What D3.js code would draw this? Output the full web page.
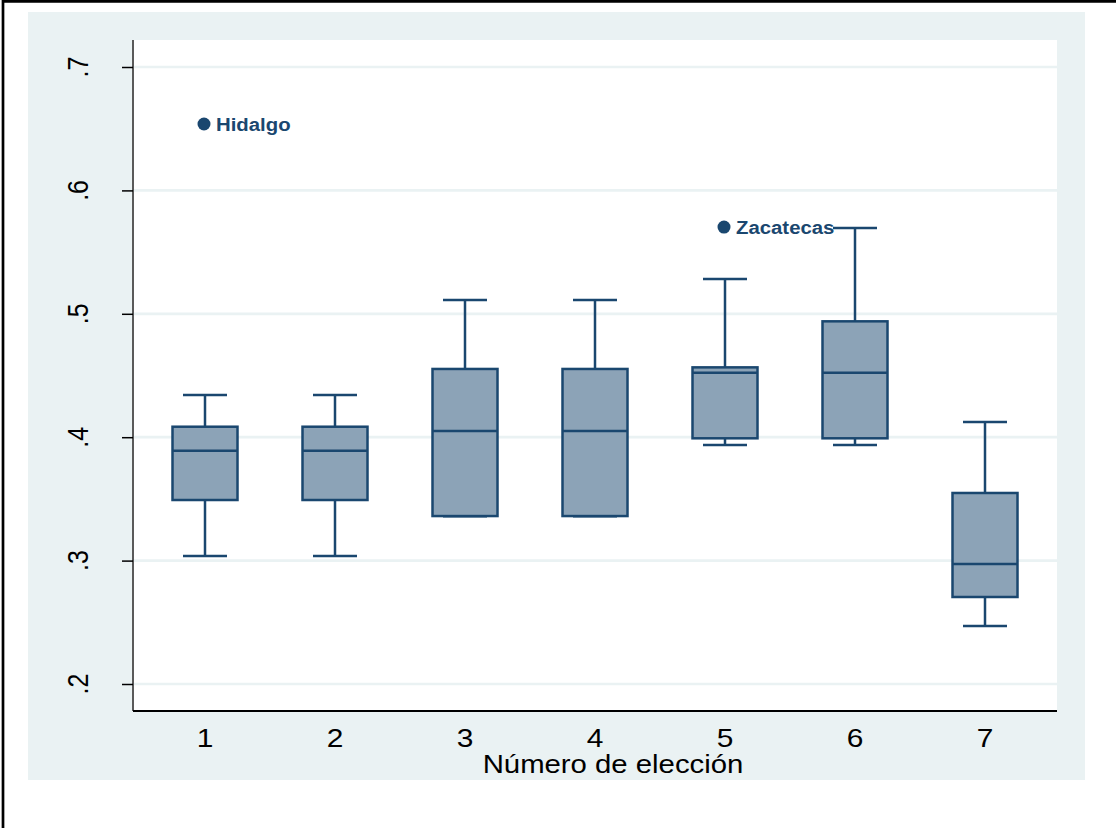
<!DOCTYPE html>
<html>
<head>
<meta charset="utf-8">
<script src="https://cdn.jsdelivr.net/npm/d3@7"></script>
<style>
  body { margin: 0; background: #fff; }
  text { font-family: "Liberation Sans", Arial, sans-serif; }
</style>
</head>
<body>
<div id="chart"></div>
<script>
// box plot data, one entry per election number
const categories = [1, 2, 3, 4, 5, 6, 7];
const whiskerLow = [0.3037, 0.3037, 0.336, 0.336, 0.3937, 0.3937, 0.247];
const q1 = [0.3491, 0.3491, 0.3361, 0.3361, 0.3991, 0.3991, 0.2705];
const median = [0.3891, 0.3891, 0.405, 0.405, 0.4523, 0.4523, 0.2972];
const q3 = [0.4085, 0.4085, 0.4553, 0.4553, 0.4566, 0.4939, 0.3548];
const whiskerHigh = [0.4342, 0.4342, 0.5112, 0.5112, 0.5282, 0.5695, 0.4123];

const outlierCat = [1, 5];
const outlierVal = [0.6538, 0.5703];
const outlierName = ["Hidalgo", "Zacatecas"];

const yTicks = [0.2, 0.3, 0.4, 0.5, 0.6, 0.7];
const yTickLabels = [".2", ".3", ".4", ".5", ".6", ".7"];
const xTitle = "Número de elección";

const width = 1116, height = 828;
const plot = { left: 133, right: 1057, top: 40, bottom: 711 };
const navy = "#1a476f";
const boxFill = "#8ca3b7";
const bluishGray = "#eaf2f3";
const stretch = 1.15; // text in the reference is a bit wider than Arial

const data = categories.map((c, i) => ({
    cat: c, lo: whiskerLow[i], q1: q1[i], med: median[i], q3: q3[i], hi: whiskerHigh[i]
}));

const svg = d3.select("#chart").append("svg")
    .attr("width", width)
    .attr("height", height);

svg.append("rect").attr("width", width).attr("height", height).attr("fill", "#fff");

// graph region and border
svg.append("rect")
    .attr("x", 28).attr("y", 12)
    .attr("width", 1057).attr("height", 768)
    .attr("fill", bluishGray);
svg.append("path")
    .attr("d", `M3,${height} V1.3 H${width}`)
    .attr("fill", "none")
    .attr("stroke", "#000")
    .attr("stroke-width", 2.7);

// plot region
svg.append("rect")
    .attr("x", plot.left).attr("y", plot.top)
    .attr("width", plot.right - plot.left).attr("height", plot.bottom - plot.top)
    .attr("fill", "#fff");

const x = d3.scaleLinear()
    .domain([1 - 72 / 130, 7 + 72 / 130])
    .range([plot.left, plot.right]);
const y = d3.scaleLinear()
    .domain([0.2, 0.7])
    .range([684, 67]);

// gridlines
svg.append("g")
    .selectAll("line")
    .data(yTicks)
    .join("line")
    .attr("x1", plot.left).attr("x2", plot.right)
    .attr("y1", d => y(d)).attr("y2", d => y(d))
    .attr("stroke", bluishGray)
    .attr("stroke-width", 2.7);

// y axis
const yAxis = svg.append("g")
    .attr("transform", `translate(${plot.left},0)`)
    .call(d3.axisLeft(y).tickValues(yTicks).tickSize(11).tickFormat(""));
yAxis.select(".domain").attr("stroke", "#5a5a5a").attr("stroke-width", 2)
    .attr("d", `M0,${plot.top}V${plot.bottom}`);
yAxis.selectAll(".tick line").attr("stroke", "#000").attr("stroke-width", 1.5);

svg.append("g")
    .selectAll("text")
    .data(yTicks)
    .join("text")
    .attr("transform", (d) => `translate(88,${y(d)}) scale(${stretch},1) rotate(-90)`)
    .attr("text-anchor", "middle")
    .attr("font-size", 25)
    .attr("fill", "#000")
    .text((d, i) => yTickLabels[i]);

// x axis
const xAxis = svg.append("g")
    .attr("transform", `translate(0,${plot.bottom})`)
    .call(d3.axisBottom(x).tickValues(categories).tickSize(0).tickFormat(""));
xAxis.select(".domain").attr("stroke", "#000").attr("stroke-width", 2)
    .attr("d", `M${plot.left},0H${plot.right}`);

svg.append("g")
    .selectAll("text")
    .data(categories)
    .join("text")
    .attr("transform", d => `translate(${x(d)},747) scale(${stretch},1)`)
    .attr("text-anchor", "middle")
    .attr("font-size", 26)
    .attr("fill", "#000")
    .text(d => d);

svg.append("text")
    .attr("transform", `translate(613,773) scale(${stretch},1)`)
    .attr("text-anchor", "middle")
    .attr("font-size", 25.5)
    .attr("fill", "#000")
    .text(xTitle);

// boxes
const boxW = 65, capW = 44;
const boxes = svg.append("g")
    .selectAll("g")
    .data(data)
    .join("g")
    .attr("stroke", navy)
    .attr("stroke-width", 2.5);

boxes.append("line")
    .attr("x1", d => x(d.cat)).attr("x2", d => x(d.cat))
    .attr("y1", d => y(d.q3)).attr("y2", d => y(d.hi));
boxes.append("line")
    .attr("x1", d => x(d.cat)).attr("x2", d => x(d.cat))
    .attr("y1", d => y(d.q1)).attr("y2", d => y(d.lo));
boxes.append("line")
    .attr("x1", d => x(d.cat) - capW / 2).attr("x2", d => x(d.cat) + capW / 2)
    .attr("y1", d => y(d.hi)).attr("y2", d => y(d.hi));
boxes.append("line")
    .attr("x1", d => x(d.cat) - capW / 2).attr("x2", d => x(d.cat) + capW / 2)
    .attr("y1", d => y(d.lo)).attr("y2", d => y(d.lo));
boxes.append("rect")
    .attr("x", d => x(d.cat) - boxW / 2)
    .attr("y", d => y(d.q3))
    .attr("width", boxW)
    .attr("height", d => y(d.q1) - y(d.q3))
    .attr("fill", boxFill);
boxes.append("line")
    .attr("x1", d => x(d.cat) - boxW / 2).attr("x2", d => x(d.cat) + boxW / 2)
    .attr("y1", d => y(d.med)).attr("y2", d => y(d.med));

// outliers with labels
const outliers = outlierCat.map((c, i) => ({ cat: c, val: outlierVal[i], name: outlierName[i] }));
const out = svg.append("g").selectAll("g").data(outliers).join("g");
out.append("circle")
    .attr("cx", d => x(d.cat) - 1)
    .attr("cy", d => y(d.val))
    .attr("r", 6.5)
    .attr("fill", navy);
out.append("text")
    .attr("transform", d => `translate(${x(d.cat) + 11},${y(d.val) + 6.5}) scale(1.1,1)`)
    .attr("font-size", 18.5)
    .attr("font-weight", "bold")
    .attr("fill", navy)
    .text(d => d.name);
</script>
</body>
</html>
